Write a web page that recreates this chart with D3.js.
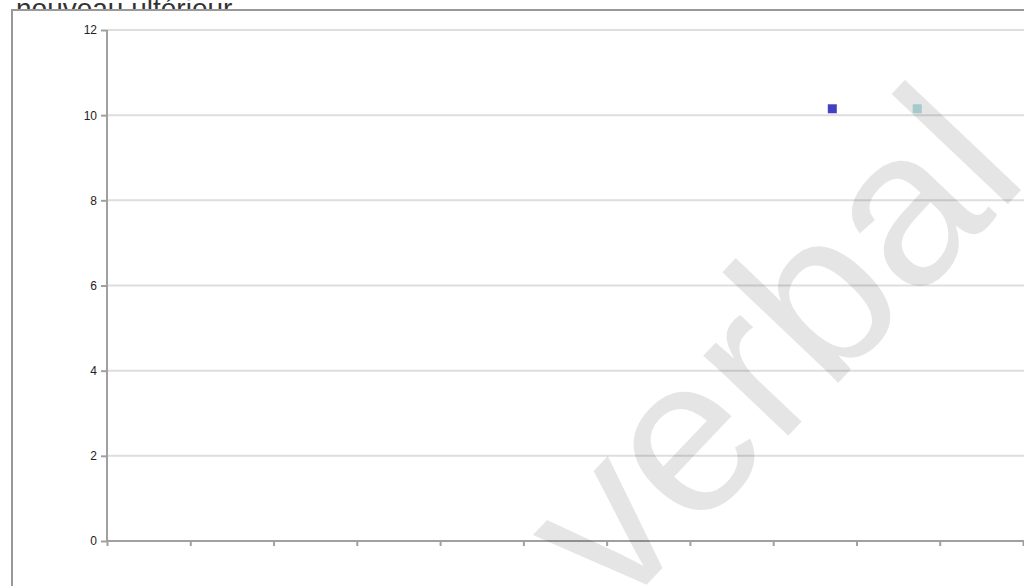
<!DOCTYPE html>
<html>
<head>
<meta charset="utf-8">
<script src="https://cdn.jsdelivr.net/npm/d3@7"></script>
<style>
  body { margin: 0; background: #fff; overflow: hidden; }
  svg { display: block; font-family: "Liberation Sans", Arial, sans-serif; }
</style>
</head>
<body>
<svg width="1024" height="586"></svg>
<script>
var svg = d3.select("svg"),
    width = +svg.attr("width"),
    height = +svg.attr("height");

// data
var titleText = "nouveau ultérieur";
var yTickValues = [0, 2, 4, 6, 8, 10, 12];
var xTickValues = [0, 1, 2, 3, 4, 5, 6, 7, 8, 9, 10, 11];
var seriesX = [8.71, 9.73];
var seriesY = [10.15, 10.15];
var seriesColors = ["#4141c2", "#b9e0e3"];
var watermark = "verbal";

var x = d3.scaleLinear().domain([0, 11]).range([107, 1023]),
    y = d3.scaleLinear().domain([0, 12]).range([541, 30]);

// title, partly hidden behind the chart frame
svg.append("text")
    .attr("x", 16)
    .attr("y", 18)
    .attr("font-size", "28px")
    .attr("fill", "#333")
    .text(titleText);

// chart frame
svg.append("rect")
    .attr("x", 12)
    .attr("y", 10)
    .attr("width", width + 20)
    .attr("height", height + 20)
    .attr("fill", "#fff")
    .attr("stroke", "#999")
    .attr("stroke-width", 2);

// horizontal grid lines
svg.append("g")
    .selectAll("line")
    .data(yTickValues.filter(function(d) { return d > 0; }))
    .enter().append("line")
    .attr("x1", x(0))
    .attr("x2", width + 10)
    .attr("y1", function(d) { return y(d); })
    .attr("y2", function(d) { return y(d); })
    .attr("stroke", "#dedede")
    .attr("stroke-width", 2);

// y axis
var yAxis = svg.append("g")
    .attr("transform", "translate(" + x(0) + ",0)")
    .call(d3.axisLeft(y).tickValues(yTickValues).tickSize(6).tickPadding(4));
yAxis.select(".domain").attr("stroke", "#a0a0a0").attr("stroke-width", 2)
    .attr("d", "M0," + y(12) + "V" + y(0));
yAxis.selectAll(".tick line").attr("stroke", "#a0a0a0").attr("stroke-width", 2);
yAxis.selectAll(".tick text")
    .attr("font-size", "12px")
    .attr("font-family", "Liberation Sans, Arial, sans-serif")
    .attr("fill", "#222");

// x axis (no labels)
var xAxis = svg.append("g")
    .attr("transform", "translate(0," + y(0) + ")")
    .call(d3.axisBottom(x).tickValues(xTickValues).tickSize(5).tickFormat(""));
xAxis.select(".domain").attr("stroke", "#a0a0a0").attr("stroke-width", 2)
    .attr("d", "M" + x(0) + ",0H" + (width + 10));
xAxis.selectAll(".tick line").attr("stroke", "#a0a0a0").attr("stroke-width", 2);

// markers
svg.append("g")
    .selectAll("rect")
    .data(seriesX)
    .enter().append("rect")
    .attr("x", function(d) { return x(d) - 4.5; })
    .attr("y", function(d, i) { return y(seriesY[i]) - 4.5; })
    .attr("width", 9)
    .attr("height", 9)
    .attr("fill", function(d, i) { return seriesColors[i]; });

// watermark
svg.append("text")
    .attr("transform", "translate(617,616) rotate(-46.5)")
    .attr("font-size", "221px")
    .attr("fill", "#000")
    .attr("fill-opacity", 0.1)
    .text(watermark);
</script>
</body>
</html>
